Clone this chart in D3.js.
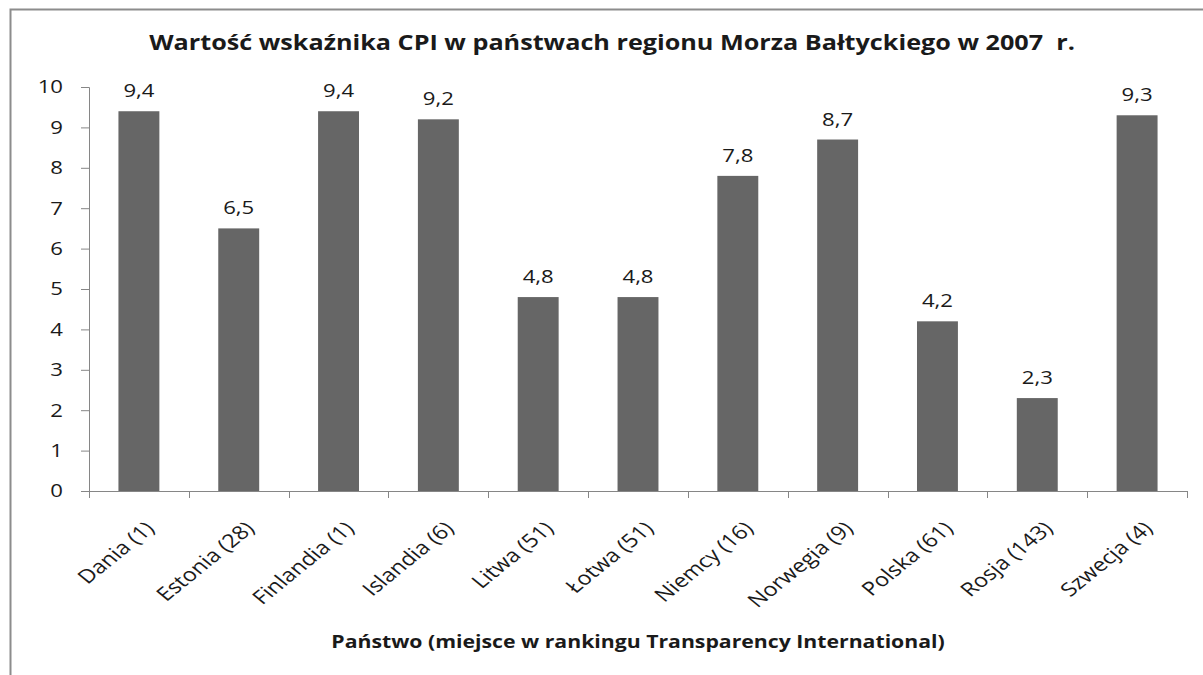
<!DOCTYPE html>
<html>
<head>
<meta charset="utf-8">
<script src="https://cdn.jsdelivr.net/npm/d3@7"></script>
<style>
	body { margin: 0; background: #fff; }
	text { font-family: "Open Sans", "DejaVu Sans", sans-serif; fill: #1a1a1a; white-space: pre; }
</style>
</head>
<body>
<div id="chart"></div>
<script>
// Data
var countries = ["Dania (1)", "Estonia (28)", "Finlandia (1)", "Islandia (6)", "Litwa (51)", "Łotwa (51)",
	"Niemcy (16)", "Norwegia (9)", "Polska (61)", "Rosja (143)", "Szwecja (4)"];
var cpiValues = [9.4, 6.5, 9.4, 9.2, 4.8, 4.8, 7.8, 8.7, 4.2, 2.3, 9.3];
var yTicks = [0, 1, 2, 3, 4, 5, 6, 7, 8, 9, 10];

var title = "Wartość wskaźnika CPI w państwach regionu Morza Bałtyckiego w 2007  r.",
	xTitle = "Państwo (miejsce w rankingu Transparency International)";

var width = 1203,
	height = 675;

var plot = { left: 89, right: 1187, top: 87, bottom: 491 };

// the original picture is stretched sideways, text gets the same stretch
var stretch = 1.23;

var svg = d3.select("#chart").append("svg")
	.attr("width", width)
	.attr("height", height);

// outer chart border (runs off right and bottom)
svg.append("rect")
	.attr("x", 10.5)
	.attr("y", 9.5)
	.attr("width", 1220)
	.attr("height", 700)
	.attr("fill", "#fff")
	.attr("stroke", "#8c8c8c")
	.attr("stroke-width", 2);

var x = d3.scaleBand()
	.domain(countries)
	.range([plot.left, plot.right])
	.paddingInner(0.59)
	.paddingOuter(0.295);

var y = d3.scaleLinear()
	.domain([0, 10])
	.range([plot.bottom, plot.top]);

// bars
svg.selectAll("rect.bar")
	.data(cpiValues)
	.enter()
	.append("rect")
	.attr("class", "bar")
	.attr("x", function(d, i) { return x(countries[i]); })
	.attr("y", function(d) { return y(d); })
	.attr("width", x.bandwidth())
	.attr("height", function(d) { return y(0) - y(d); })
	.attr("fill", "#666666");

// value labels
svg.selectAll("text.val")
	.data(cpiValues)
	.enter()
	.append("text")
	.attr("class", "val")
	.attr("transform", function(d, i) {
		return "translate(" + (x(countries[i]) + x.bandwidth() / 2) + "," + (y(d) - 14) + ") scale(" + stretch + ",1)";
	})
	.attr("text-anchor", "middle")
	.style("font-size", "18px")
	.text(function(d) { return d.toFixed(1).replace(".", ","); });

// y axis
var yAxis = svg.append("g")
	.attr("transform", "translate(" + plot.left + ",0)")
	.call(d3.axisLeft(y).tickValues(yTicks).tickSize(8).tickFormat(""));
yAxis.select(".domain").attr("stroke", "#868686");
yAxis.selectAll(".tick line").attr("stroke", "#868686");

svg.selectAll("text.ytk")
	.data(yTicks)
	.enter()
	.append("text")
	.attr("class", "ytk")
	.attr("transform", function(d) {
		return "translate(" + (plot.left - 26) + "," + y(d) + ") scale(" + stretch + ",1)";
	})
	.attr("text-anchor", "end")
	.attr("dy", "0.36em")
	.style("font-size", "18px")
	.text(function(d) { return d; });

// x axis: ticks sit on band boundaries
var xAxis = svg.append("g")
	.attr("transform", "translate(0," + plot.bottom + ")");
xAxis.append("line")
	.attr("x1", plot.left).attr("x2", plot.right)
	.attr("y1", 0.5).attr("y2", 0.5)
	.attr("stroke", "#868686");
var step = x.step();
xAxis.selectAll("line.tk")
	.data(d3.range(countries.length + 1))
	.enter()
	.append("line")
	.attr("class", "tk")
	.attr("x1", function(i) { return Math.round(plot.left + i * step) + 0.5; })
	.attr("x2", function(i) { return Math.round(plot.left + i * step) + 0.5; })
	.attr("y1", 0)
	.attr("y2", 7)
	.attr("stroke", "#868686");

xAxis.selectAll("text.cat")
	.data(countries)
	.enter()
	.append("text")
	.attr("class", "cat")
	.attr("transform", function(d) {
		return "translate(" + (x(d) + x.bandwidth() / 2 + 11) + ",34) scale(" + stretch + ",1) rotate(-45)";
	})
	.attr("text-anchor", "end")
	.attr("dy", "0.35em")
	.style("font-size", "19px")
	.text(function(d) { return d; });

// titles
svg.append("text")
	.attr("transform", "translate(612,50) scale(1.2,1)")
	.attr("text-anchor", "middle")
	.style("font-size", "21px")
	.style("font-weight", "bold")
	.text(title);

svg.append("text")
	.attr("transform", "translate(" + ((plot.left + plot.right) / 2) + ",648) scale(1.18,1)")
	.attr("text-anchor", "middle")
	.style("font-size", "18px")
	.style("font-weight", "bold")
	.text(xTitle);
</script>
</body>
</html>
